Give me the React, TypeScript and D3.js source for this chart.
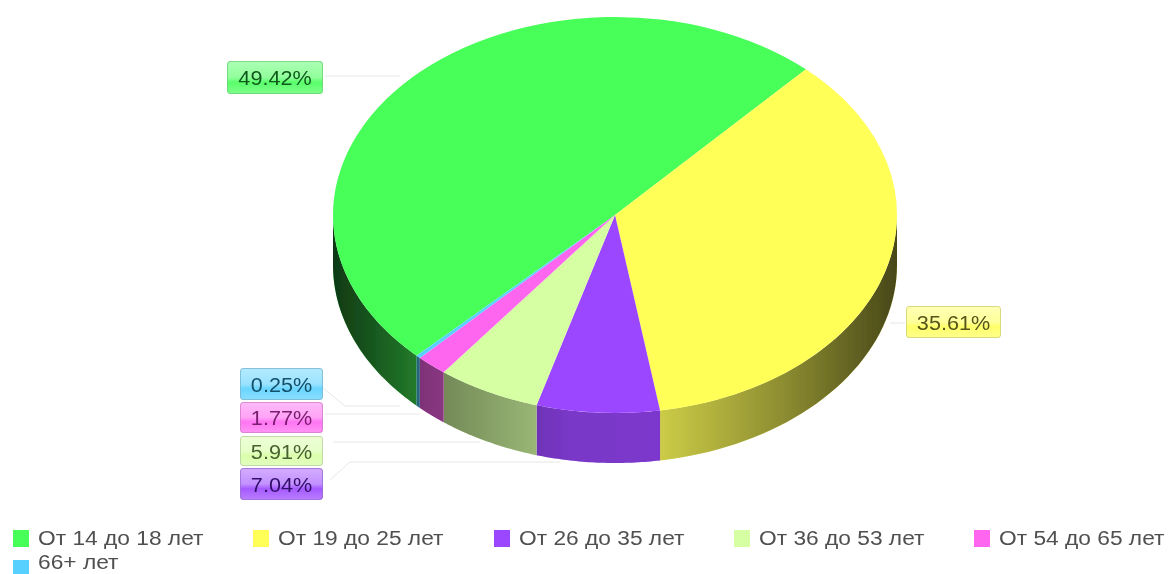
import React from "react";
import * as d3 from "d3";

const categories = ["От 14 до 18 лет", "От 19 до 25 лет", "От 26 до 35 лет", "От 36 до 53 лет", "От 54 до 65 лет", "66+ лет"];
const shares = [49.42, 35.61, 7.04, 5.91, 1.77, 0.25];
const colors = ["#47ff59", "#ffff59", "#9b47ff", "#d6ffa3", "#ff66f0", "#59d0ff"];
const darkText = ["#0f5a1c", "#55551a", "#32106a", "#4a6030", "#7a1a70", "#124f6a"];

const W = 1169, H = 574;
const cx = 615, cy = 215, rx = 282, ry = 198, depth = 50;
const startDeg = 224.7;

// label box [left, top, right, bottom] per category
const boxes = [
  [227, 61, 323, 94],
  [906, 306, 1001, 338],
  [240, 468, 323, 500],
  [240, 436, 323, 466],
  [240, 402, 323, 433],
  [240, 368, 323, 400],
];
// faint leader lines per category
const leaders: [number, number][][] = [
  [[325, 76], [400, 76]],
  [[890, 323], [905, 323]],
  [[330, 480], [350, 462], [560, 462]],
  [[333, 442], [480, 442]],
  [[325, 414], [420, 414]],
  [[323, 388], [345, 406], [400, 406]],
];
const legendCols = [13, 253, 494, 734, 974];

export default function App() {
  const rad = (d: number) => (d * Math.PI) / 180;
  const start = rad(startDeg);
  const pie = d3.pie<number>().sort(null).startAngle(start).endAngle(start + 2 * Math.PI);
  const arcs = pie(shares);
  const arc = d3.arc<d3.PieArcDatum<number>>().innerRadius(0).outerRadius(rx);
  const px = (a: number) => cx + rx * Math.sin(a);
  const py = (a: number) => cy - ry * Math.cos(a);

  const wall = (a0: number, a1: number) => {
    const paths: string[] = [];
    for (const k of [0, 2 * Math.PI]) {
      const s = Math.max(a0, Math.PI / 2 + k);
      const e = Math.min(a1, (3 * Math.PI) / 2 + k);
      if (e <= s) continue;
      const steps = d3.range(0, 41).map((i) => s + ((e - s) * i) / 40);
      const top = steps.map((a) => [px(a), py(a)] as [number, number]);
      const bot = steps.slice().reverse().map((a) => [px(a), py(a) + depth] as [number, number]);
      paths.push(d3.line()([...top, ...bot])! + "Z");
    }
    return paths.join(" ");
  };

  return (
    <svg width={W} height={H} style={{ position: "absolute", left: 0, top: 0, background: "#fff" }} fontFamily="'Liberation Sans', Arial, sans-serif">
      <defs>
        <filter id="soft" x="-2%" y="-2%" width="104%" height="104%">
          <feGaussianBlur stdDeviation="0.55" />
        </filter>
        <linearGradient id="shade" gradientUnits="userSpaceOnUse" x1={cx - rx} x2={cx + rx} y1={0} y2={0}>
          <stop offset="0" stopColor="#000" stopOpacity={0.78} />
          <stop offset="0.16" stopColor="#000" stopOpacity={0.5} />
          <stop offset="0.42" stopColor="#000" stopOpacity={0.22} />
          <stop offset="0.58" stopColor="#000" stopOpacity={0.2} />
          <stop offset="0.8" stopColor="#000" stopOpacity={0.45} />
          <stop offset="1" stopColor="#000" stopOpacity={0.72} />
        </linearGradient>
        {colors.map((c, i) => (
          <linearGradient key={i} id={`gloss${i}`} x1="0" x2="0" y1="0" y2="1">
            <stop offset="0" stopColor={d3.interpolateRgb(c, "#fff")(0.55)} />
            <stop offset="0.5" stopColor={d3.interpolateRgb(c, "#fff")(0.4)} />
            <stop offset="0.65" stopColor={d3.interpolateRgb(c, "#fff")(0.1)} />
            <stop offset="1" stopColor={d3.interpolateRgb(c, "#fff")(0.3)} />
          </linearGradient>
        ))}
      </defs>
      <g filter="url(#soft)">
        {leaders.map((pts, i) => (
          <path key={i} d={d3.line()(pts)!} fill="none" stroke="#e6e6e6" strokeWidth={1} />
        ))}
        {arcs.map((a, i) => (
          <g key={i}>
            <path d={wall(a.startAngle, a.endAngle)} fill={colors[i]} />
            <path d={wall(a.startAngle, a.endAngle)} fill="url(#shade)" />
          </g>
        ))}
        <g transform={`translate(${cx},${cy}) scale(1,${ry / rx})`}>
          {arcs.map((a, i) => (
            <path key={i} d={arc(a)!} fill={colors[i]} />
          ))}
        </g>
        {boxes.map((b, i) => (
          <g key={i}>
            <rect x={b[0] + 0.5} y={b[1] + 0.5} width={b[2] - b[0] - 1} height={b[3] - b[1] - 1} rx={2.5}
              fill={`url(#gloss${i})`} stroke={d3.color(colors[i])!.darker(0.9).formatHex()} strokeOpacity={0.55} />
            <text transform={`translate(${(b[0] + b[2]) / 2},${(b[1] + b[3]) / 2 + 7.5}) scale(1.03,1)`} textAnchor="middle" fontSize={21} fill={darkText[i]}>
              {shares[i].toFixed(2)}%
            </text>
          </g>
        ))}
        {categories.map((c, i) => {
          const col = i % legendCols.length;
          const row = Math.floor(i / legendCols.length);
          const x = legendCols[col];
          const y = 530 + row * 30;
          return (
            <g key={i}>
              <rect x={x} y={y} width={16} height={row ? 14 : 17} fill={colors[i]} />
              <text transform={`translate(${x + 25},${row ? 569 : y + 15}) scale(1.11,1)`} fontSize={20.5} fill="#505050">{c}</text>
            </g>
          );
        })}
      </g>
    </svg>
  );
}
